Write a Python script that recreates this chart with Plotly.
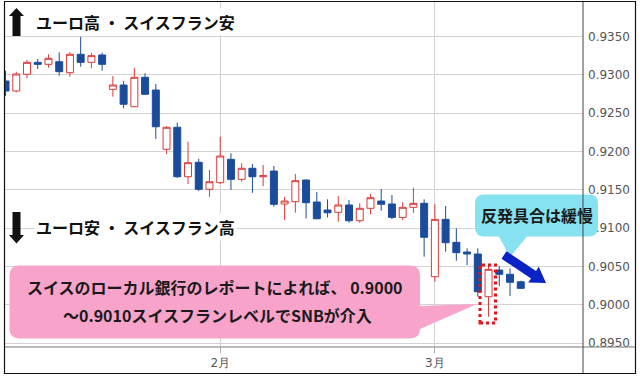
import plotly.graph_objects as go

# ---------------- data ----------------
dates = [
    "2021-01-04", "2021-01-05", "2021-01-06", "2021-01-07", "2021-01-08",
    "2021-01-11", "2021-01-12", "2021-01-13", "2021-01-14", "2021-01-15",
    "2021-01-18", "2021-01-19", "2021-01-20", "2021-01-21", "2021-01-22",
    "2021-01-25", "2021-01-26", "2021-01-27", "2021-01-28", "2021-01-29",
    "2021-02-01", "2021-02-02", "2021-02-03", "2021-02-04", "2021-02-05",
    "2021-02-08", "2021-02-09", "2021-02-10", "2021-02-11", "2021-02-12",
    "2021-02-15", "2021-02-16", "2021-02-17", "2021-02-18", "2021-02-19",
    "2021-02-22", "2021-02-23", "2021-02-24", "2021-02-25", "2021-02-26",
    "2021-03-01", "2021-03-02", "2021-03-03", "2021-03-04", "2021-03-05",
    "2021-03-08", "2021-03-09", "2021-03-10", "2021-03-11",
]
open_ = [
    0.92920, 0.92789, 0.93007, 0.93163, 0.93137, 0.93171, 0.93028, 0.93268, 0.93163, 0.93259,
    0.92811, 0.92867, 0.92584, 0.92968, 0.92802, 0.92029, 0.92316, 0.91671, 0.91859, 0.91507,
    0.91593, 0.91898, 0.91637, 0.91781, 0.91671, 0.91745, 0.91315, 0.91345, 0.91628, 0.91341,
    0.91237, 0.91207, 0.91302, 0.91097, 0.91259, 0.91354, 0.91315, 0.91141, 0.91272, 0.91324,
    0.90367, 0.91115, 0.90815, 0.90689, 0.90663, 0.90106, 0.90454, 0.90398, 0.90301,
]
high = [
    0.93054, 0.93041, 0.93193, 0.93206, 0.93268, 0.93294, 0.93294, 0.93497, 0.93289, 0.93289,
    0.92985, 0.92920, 0.93093, 0.93020, 0.92880, 0.92332, 0.92376, 0.92128, 0.91902, 0.91758,
    0.92193, 0.91976, 0.91846, 0.91837, 0.91824, 0.91811, 0.91410, 0.91706, 0.91637, 0.91472,
    0.91376, 0.91419, 0.91367, 0.91324, 0.91445, 0.91511, 0.91432, 0.91337, 0.91528, 0.91376,
    0.91315, 0.91289, 0.90998, 0.90737, 0.90737, 0.90506, 0.90506, 0.90476, 0.90314,
]
low = [
    0.92724, 0.92772, 0.92955, 0.93076, 0.93093, 0.92989, 0.92976, 0.93106, 0.93085, 0.93054,
    0.92715, 0.92563, 0.92580, 0.92744, 0.92163, 0.91967, 0.91654, 0.91576, 0.91485, 0.91410,
    0.91576, 0.91498, 0.91606, 0.91462, 0.91550, 0.91280, 0.91106, 0.91201, 0.91128, 0.91115,
    0.91141, 0.91084, 0.91071, 0.91071, 0.91181, 0.91228, 0.91119, 0.91106, 0.91201, 0.90628,
    0.90301, 0.90693, 0.90575, 0.90519, 0.90106, 0.89845, 0.90245, 0.90115, 0.90213,
]
close = [
    0.92789, 0.93011, 0.93163, 0.93137, 0.93216, 0.93041, 0.93268, 0.93163, 0.93250, 0.93137,
    0.92867, 0.92616, 0.92968, 0.92746, 0.92323, 0.92316, 0.91671, 0.91854, 0.91507, 0.91606,
    0.91941, 0.91637, 0.91781, 0.91671, 0.91684, 0.91311, 0.91354, 0.91619, 0.91332, 0.91123,
    0.91201, 0.91302, 0.91097, 0.91259, 0.91397, 0.91311, 0.91141, 0.91272, 0.91324, 0.90881,
    0.91115, 0.90810, 0.90680, 0.90663, 0.90171, 0.90463, 0.90398, 0.90294, 0.90215,
]
x_tickvals = ["2021-02-01", "2021-03-01"]
x_ticktext = ["2月", "3月"]
y_tickvals = [0.8950, 0.9000, 0.9050, 0.9100, 0.9150, 0.9200, 0.9250, 0.9300, 0.9350]
y_ticktext = ["0.8950", "0.9000", "0.9050", "0.9100", "0.9150", "0.9200", "0.9250", "0.9300", "0.9350"]

label_up = "ユーロ高 ・ スイスフラン安"
label_down = "ユーロ安 ・ スイスフラン高"
note_line1 = "スイスのローカル銀行のレポートによれば、 0.9000"
note_line2 = "～0.9010スイスフランレベルでSNBが介入"
note_rebound = "反発具合は緩慢"

RED = "#d93a3a"
BLUE = "#1b4c9c"
PINK = "#f7a3ca"
CYAN = "#86e2f0"
ARROW_BLUE = "#0b22c4"

# ---------------- layout geometry (pixels) ----------------
W, H = 640, 377
ML, MR, MT, MB = 5, 57, 2, 30
PW = W - ML - MR
PH = H - MT - MB


def px(x):
    return (x - ML) / PW


def py(y):
    return (H - MB - y) / PH


def path(points, rounded=None):
    s = "M " + " L ".join(f"{px(x):.5f},{py(y):.5f}" for x, y in points) + " Z"
    return s


def rounded_callout(x0, y0, x1, y1, r, tail_right=None, tail_bottom=None):
    pts = []
    cmds = []

    def P(x, y):
        return f"{px(x):.5f},{py(y):.5f}"

    cmds.append("M " + P(x0 + r, y0))
    cmds.append("L " + P(x1 - r, y0))
    cmds.append("Q " + P(x1, y0) + " " + P(x1, y0 + r))
    if tail_right:
        (ya, tipx, tipy, yb) = tail_right
        cmds.append("L " + P(x1, ya))
        cmds.append("L " + P(tipx, tipy))
        cmds.append("L " + P(x1, yb))
    cmds.append("L " + P(x1, y1 - r))
    cmds.append("Q " + P(x1, y1) + " " + P(x1 - r, y1))
    if tail_bottom:
        (xa, tipx, tipy, xb) = tail_bottom
        cmds.append("L " + P(xb, y1))
        cmds.append("L " + P(tipx, tipy))
        cmds.append("L " + P(xa, y1))
    cmds.append("L " + P(x0 + r, y1))
    cmds.append("Q " + P(x0, y1) + " " + P(x0, y1 - r))
    cmds.append("L " + P(x0, y0 + r))
    cmds.append("Q " + P(x0, y0) + " " + P(x0 + r, y0))
    return " ".join(cmds) + " Z"


def block_arrow(sx, sy, tx, ty, w, hw, hl):
    dx, dy = tx - sx, ty - sy
    L = (dx * dx + dy * dy) ** 0.5
    ux, uy = dx / L, dy / L
    nx, ny = -uy, ux
    bx, by = tx - hl * ux, ty - hl * uy
    pts = [
        (sx - w * nx, sy - w * ny),
        (bx - w * nx, by - w * ny),
        (bx - hw * nx, by - hw * ny),
        (tx, ty),
        (bx + hw * nx, by + hw * ny),
        (bx + w * nx, by + w * ny),
        (sx + w * nx, sy + w * ny),
    ]
    return path(pts)


fig = go.Figure()
fig.add_trace(go.Candlestick(
    x=dates, open=open_, high=high, low=low, close=close,
    increasing=dict(line=dict(color=RED, width=1), fillcolor="white"),
    decreasing=dict(line=dict(color=BLUE, width=1), fillcolor=BLUE),
    whiskerwidth=0,
    showlegend=False,
    hoverinfo="skip",
))

shapes = []
# pink callout
shapes.append(dict(type="path", xref="paper", yref="paper", layer="above",
                   path=rounded_callout(9.5, 265.5, 420, 338.5, 10,
                                        tail_right=(306, 477, 304, 329)),
                   fillcolor=PINK, line=dict(width=0)))
# cyan callout
shapes.append(dict(type="path", xref="paper", yref="paper", layer="above",
                   path=rounded_callout(475, 194.5, 598, 236.5, 9,
                                        tail_bottom=(499, 510, 257, 527)),
                   fillcolor=CYAN, line=dict(width=0)))
# blue arrow
shapes.append(dict(type="path", xref="paper", yref="paper", layer="above",
                   path=block_arrow(504, 255, 546, 283, 4.5, 9.5, 15),
                   fillcolor=ARROW_BLUE, line=dict(width=0)))
# red dotted rectangle
shapes.append(dict(type="rect", xref="paper", yref="paper", layer="above",
                   x0=px(480), x1=px(495.5), y0=py(323), y1=py(265),
                   line=dict(color="#e5141c", width=3, dash="dot"),
                   fillcolor="rgba(0,0,0,0)"))
# up / down black arrows
shapes.append(dict(type="path", xref="paper", yref="paper", layer="above",
                   path=path([(16.5, 8), (24, 16), (20.5, 16), (20.5, 36),
                              (12.5, 36), (12.5, 16), (9, 16)]),
                   fillcolor="#111111", line=dict(width=0)))
shapes.append(dict(type="path", xref="paper", yref="paper", layer="above",
                   path=path([(12.5, 212), (20.5, 212), (20.5, 235), (24, 235),
                              (16.5, 243.5), (9, 235), (12.5, 235)]),
                   fillcolor="#111111", line=dict(width=0)))
# axis lines
shapes.append(dict(type="line", xref="paper", yref="paper", layer="above",
                   x0=px(5), x1=px(635), y0=py(347), y1=py(347),
                   line=dict(color="#777777", width=1)))
shapes.append(dict(type="line", xref="paper", yref="paper", layer="above",
                   x0=px(583), x1=px(583), y0=py(2), y1=py(373.5),
                   line=dict(color="#444444", width=1)))
# outer border
shapes.append(dict(type="rect", xref="paper", yref="paper", layer="above",
                   x0=px(4.5), x1=px(635.5), y0=py(373.5), y1=py(1.5),
                   line=dict(color="#111111", width=1.2),
                   fillcolor="rgba(0,0,0,0)"))

JP = "Noto Sans CJK JP"
annotations = [
    dict(text=f"<b>{label_up}</b>", x=px(34), y=py(21.5), xanchor="left", yanchor="middle",
         font=dict(family=JP, size=16, color="#111111"), bgcolor="white", borderpad=1),
    dict(text=f"<b>{label_down}</b>", x=px(34), y=py(226.5), xanchor="left", yanchor="middle",
         font=dict(family=JP, size=16, color="#111111"), bgcolor="white", borderpad=1),
    dict(text=f"<b>{note_line1}</b>", x=px(215), y=py(287), xanchor="center", yanchor="middle",
         font=dict(family=JP, size=16, color="#1a1a1a")),
    dict(text=f"<b>{note_line2}</b>", x=px(217), y=py(315), xanchor="center", yanchor="middle",
         font=dict(family=JP, size=16, color="#1a1a1a")),
    dict(text=f"<b>{note_rebound}</b>", x=px(537), y=py(215), xanchor="center", yanchor="middle",
         font=dict(family=JP, size=16, color="#1a1a1a")),
]
for a in annotations:
    a.update(xref="paper", yref="paper", showarrow=False)

fig.update_layout(
    width=W, height=H,
    margin=dict(l=ML, r=MR, t=MT, b=MB, pad=0),
    paper_bgcolor="white", plot_bgcolor="white",
    boxgap=0.35, boxgroupgap=0,
    shapes=shapes, annotations=annotations,
    xaxis=dict(
        type="category", categoryorder="array", categoryarray=dates,
        range=[-0.05, 53.8],
        tickmode="array", tickvals=x_tickvals, ticktext=x_ticktext,
        showgrid=True, gridcolor="#d2d2d2", gridwidth=1,
        ticks="outside", ticklen=5, tickcolor="#aaaaaa",
        tickfont=dict(family="DejaVu Sans", size=12, color="#555555"),
        showline=False, zeroline=False,
        rangeslider=dict(visible=False), fixedrange=True,
    ),
    yaxis=dict(
        side="right", range=[0.8945, 0.9395],
        tickmode="array", tickvals=y_tickvals, ticktext=y_ticktext,
        showgrid=True, gridcolor="#d2d2d2", gridwidth=1,
        ticks="", ticklabelstandoff=4,
        tickfont=dict(family="DejaVu Sans", size=12, color="#555555"),
        showline=False, zeroline=False, fixedrange=True,
    ),
    hovermode=False,
)

fig.write_html("out.html", config=dict(displayModeBar=False))
